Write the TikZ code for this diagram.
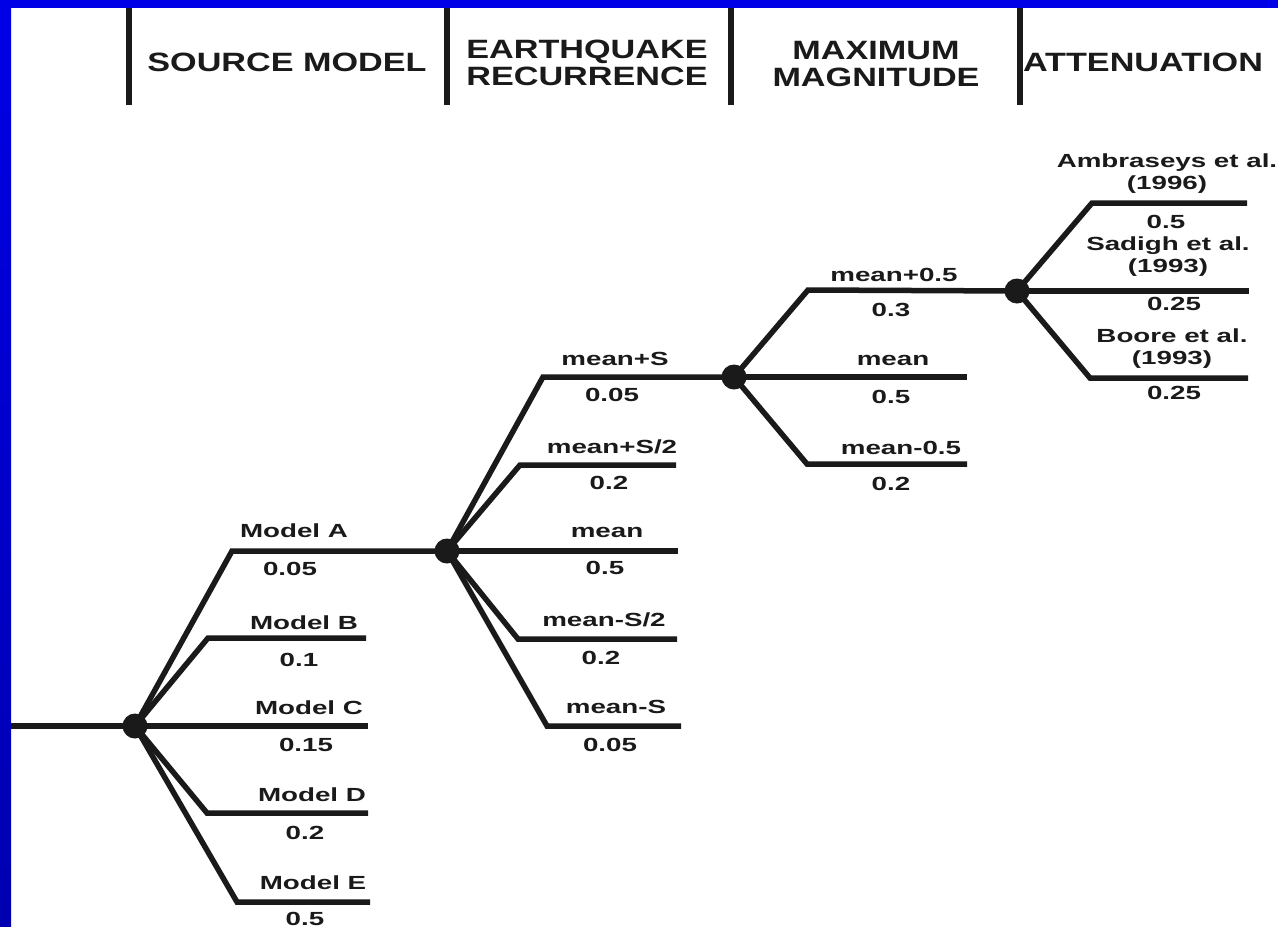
\documentclass[tikz,border=0pt]{standalone}
\usepackage{fontspec}
\setmainfont{Liberation Sans}
\usepackage{graphicx}

\definecolor{frameblue}{RGB}{0,0,230}
\definecolor{frameblue2}{RGB}{0,0,176}
\definecolor{ink}{RGB}{26,26,26}

% wide lettering used for the tree labels and the column headings
\newcommand{\treetxt}[1]{\scalebox{1.46}[1]{#1}}
\newcommand{\headtxt}[1]{\scalebox{1.29}[1]{#1}}

\tikzset{
  branch/.style={draw=ink, line width=5.5pt},
  colbar/.style={draw=ink, line width=6pt},
  knot/.style={circle, fill=ink, inner sep=0pt, minimum size=25pt},
  lbl/.style={text=ink, inner sep=0pt, font=\fontsize{19}{22}\selectfont\bfseries, align=center},
  hdr/.style={text=ink, inner sep=0pt, font=\fontsize{26.5}{27}\selectfont\bfseries, align=center},
}

\begin{document}
\begin{tikzpicture}[x=1pt,y=-1pt]
\useasboundingbox (0,0) rectangle (1278,927);
\fill[white] (0,0) rectangle (1278,927);

% frame strips
\shade[top color=frameblue, bottom color=frameblue2] (0,0) rectangle (11,927);
\fill[frameblue] (0,0) rectangle (1278,8);

% column dividers
\draw[colbar] (129,8) -- (129,105);
\draw[colbar] (447,8) -- (447,105);
\draw[colbar] (731,8) -- (731,105);
\draw[colbar] (1020,8) -- (1020,105);

% column headings
\node[hdr] (hsrc) at (287,62) {\headtxt{SOURCE MODEL}};
\node[hdr] (hrec) at (587,63) {\headtxt{EARTHQUAKE}\\\headtxt{RECURRENCE}};
\node[hdr] (hmax) at (876,64) {\headtxt{MAXIMUM}\\\headtxt{MAGNITUDE}};
\node[hdr] (hatt) at (1143,62) {\headtxt{ATTENUATION}};

% chance nodes
\node[knot] (n1) at (135,726) {};
\node[knot] (n2) at (447,551) {};
\node[knot] (n3) at (734,377) {};
\node[knot] (n4) at (1017,291) {};

% bends and free ends of the branches
\coordinate (root) at (11,726);
\coordinate (cA) at (232,551);
\coordinate (cB) at (208,638);  \coordinate (eB) at (366,638);
\coordinate (eC) at (368,726);
\coordinate (cD) at (207,813);  \coordinate (eD) at (368,813);
\coordinate (cE) at (237,902);  \coordinate (eE) at (370,902);

\coordinate (cS1) at (543,377);
\coordinate (cS2) at (520,465); \coordinate (eS2) at (676,465);
\coordinate (eS3) at (678,551);
\coordinate (cS4) at (518,639); \coordinate (eS4) at (677,639);
\coordinate (cS5) at (547,726); \coordinate (eS5) at (681,726);

\coordinate (cM1) at (808,290);
\coordinate (eM2) at (967,377);
\coordinate (cM3) at (807,464); \coordinate (eM3) at (967,464);

\coordinate (cT1) at (1092,203); \coordinate (eT1) at (1247,203);
\coordinate (eT2) at (1249,291);
\coordinate (cT3) at (1090,378); \coordinate (eT3) at (1248,378);

% source model branches
\draw[branch] (root) -- (n1.center);
\draw[branch] (n1.center) -- (cA) -- (n2.center);
\draw[branch] (n1.center) -- (cB) -- (eB);
\draw[branch] (n1.center) -- (eC);
\draw[branch] (n1.center) -- (cD) -- (eD);
\draw[branch] (n1.center) -- (cE) -- (eE);

% recurrence branches
\draw[branch] (n2.center) -- (cS1) -- (n3.center);
\draw[branch] (n2.center) -- (cS2) -- (eS2);
\draw[branch] (n2.center) -- (eS3);
\draw[branch] (n2.center) -- (cS4) -- (eS4);
\draw[branch] (n2.center) -- (cS5) -- (eS5);

% maximum magnitude branches
\draw[branch] (n3.center) -- (cM1) -- (n4.center);
\draw[branch] (n3.center) -- (eM2);
\draw[branch] (n3.center) -- (cM3) -- (eM3);

% attenuation branches
\draw[branch] (n4.center) -- (cT1) -- (eT1);
\draw[branch] (n4.center) -- (eT2);
\draw[branch] (n4.center) -- (cT3) -- (eT3);

% source model labels
\node[lbl] (lA) at (294,531) {\treetxt{Model A}};
\node[lbl] (pA) at (290,569) {\treetxt{0.05}};
\node[lbl] (lB) at (304,623) {\treetxt{Model B}};
\node[lbl] (pB) at (299,660) {\treetxt{0.1}};
\node[lbl] (lC) at (309,708) {\treetxt{Model C}};
\node[lbl] (pC) at (306,745) {\treetxt{0.15}};
\node[lbl] (lD) at (312,795) {\treetxt{Model D}};
\node[lbl] (pD) at (305,833) {\treetxt{0.2}};
\node[lbl] (lE) at (313,883) {\treetxt{Model E}};
\node[lbl] (pE) at (305,919) {\treetxt{0.5}};

% recurrence labels
\node[lbl] (lS1) at (615,359) {\treetxt{mean+S}};
\node[lbl] (pS1) at (612,395) {\treetxt{0.05}};
\node[lbl] (lS2) at (612,447) {\treetxt{mean+S/2}};
\node[lbl] (pS2) at (609,483) {\treetxt{0.2}};
\node[lbl] (lS3) at (607,532) {\treetxt{mean}};
\node[lbl] (pS3) at (605,568) {\treetxt{0.5}};
\node[lbl] (lS4) at (604,620) {\treetxt{mean-S/2}};
\node[lbl] (pS4) at (601,658) {\treetxt{0.2}};
\node[lbl] (lS5) at (616,707) {\treetxt{mean-S}};
\node[lbl] (pS5) at (610,745) {\treetxt{0.05}};

% maximum magnitude labels
\node[lbl] (lM1) at (894,275) {\treetxt{mean+0.5}};
\node[lbl] (pM1) at (891,310) {\treetxt{0.3}};
\node[lbl] (lM2) at (893,360) {\treetxt{mean}};
\node[lbl] (pM2) at (891,397) {\treetxt{0.5}};
\node[lbl] (lM3) at (901,448) {\treetxt{mean-0.5}};
\node[lbl] (pM3) at (891,484) {\treetxt{0.2}};

% attenuation labels
\node[lbl] (lT1) at (1167,174) {\treetxt{Ambraseys et al.}\\\treetxt{(1996)}};
\node[lbl] (pT1) at (1166,222) {\treetxt{0.5}};
\node[lbl] (lT2) at (1168,257) {\treetxt{Sadigh et al.}\\\treetxt{(1993)}};
\node[lbl] (pT2) at (1174,304) {\treetxt{0.25}};
\node[lbl] (lT3) at (1172,349) {\treetxt{Boore et al.}\\\treetxt{(1993)}};
\node[lbl] (pT3) at (1174,393) {\treetxt{0.25}};
\end{tikzpicture}
\end{document}
